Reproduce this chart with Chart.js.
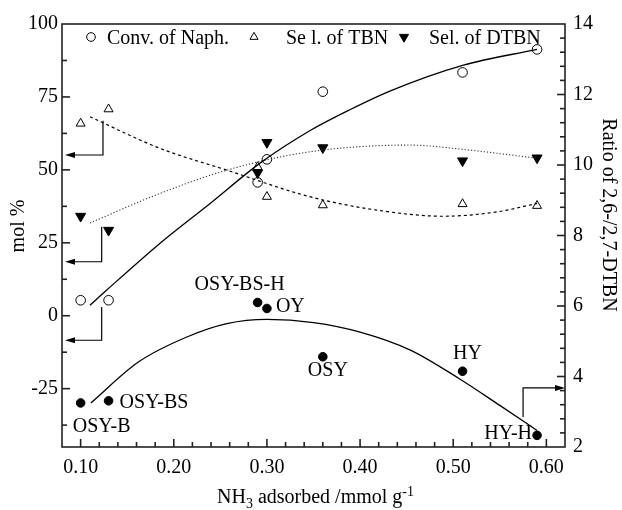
<!DOCTYPE html>
<html>
<head>
<meta charset="utf-8">
<script src="https://cdn.jsdelivr.net/npm/chart.js@4.4.1/dist/chart.umd.min.js"></script>
<style>
  html, body { margin: 0; padding: 0; background: #fff; }
  canvas { display: block; }
</style>
</head>
<body>
<canvas id="chart" width="622" height="510"></canvas>
<script>
// measured samples (x = NH3 adsorbed, mmol/g)
const nh3 = [0.10, 0.13, 0.29, 0.30, 0.36, 0.51, 0.59];
const sampleNames = ['OSY-B', 'OSY-BS', 'OSY-BS-H', 'OY', 'OSY', 'HY', 'HY-H'];
const convNaph = [5.3, 5.3, 45.7, 53.6, 76.8, 83.4, 91.3];
const selTBN = [65.9, 70.8, 51.0, 40.8, 37.9, 38.3, 37.7];
const selDTBN = [34.1, 29.3, 49.0, 59.4, 57.6, 53.1, 54.1];
const ratio2627 = [3.25, 3.31, 6.10, 5.93, 4.56, 4.15, 2.33];

// trend lines
const convFitX = [0.11, 0.128, 0.185, 0.239, 0.293, 0.346, 0.389, 0.432, 0.511, 0.59];
const convFitY = [3.6, 8.8, 24.8, 38.5, 52.4, 63.4, 70.6, 77.0, 85.9, 91.3];
const tbnFitX = [0.11, 0.185, 0.257, 0.346, 0.418, 0.489, 0.547, 0.59];
const tbnFitY = [68.2, 57.4, 49.9, 40.8, 36.2, 34.1, 35.6, 38.5];
const dtbnFitX = [0.11, 0.185, 0.257, 0.346, 0.454, 0.511, 0.59];
const dtbnFitY = [31.8, 41.9, 49.9, 56.2, 58.5, 57.0, 54.0];
const ratioFitX = [0.111, 0.162, 0.214, 0.257, 0.30, 0.35, 0.40, 0.454, 0.507, 0.55, 0.59];
const ratioFitY = [3.25, 4.41, 5.12, 5.50, 5.62, 5.53, 5.26, 4.75, 3.93, 3.18, 2.47];

// axis ticks
const xTicks = [0.10, 0.20, 0.30, 0.40, 0.50, 0.60];
const yTicks = [-25, 0, 25, 50, 75, 100];
const y1Ticks = [2, 4, 6, 8, 10, 12, 14];

// arrows pointing at the axis each series belongs to
const arrows = [
  { x: 0.124, from: 66.8, to: 55.1, axis: 'y' },
  { x: 0.1226, from: 30.5, to: 18.5, axis: 'y' },
  { x: 0.1226, from: 3.0, to: -8.4, axis: 'y' },
  { x: 0.575, from: 2.85, to: 3.675, axis: 'y1' }
];

const FONT = '"Liberation Serif", "Times New Roman", serif';

const pts = (xs, ys) => xs.map((x, i) => ({ x: x, y: ys[i] }));

// label placement next to each black dot: [dx, dy, align]
const labelPos = [
  [21, 24, 'center'],
  [11, 2, 'left'],
  [-18, -18, 'center'],
  [9, -2, 'left'],
  [5, 14, 'center'],
  [5, -17, 'center'],
  [-5, -1.5, 'right']
];

function tickLine(ctx, x1, y1, x2, y2) {
  ctx.beginPath();
  ctx.moveTo(x1, y1);
  ctx.lineTo(x2, y2);
  ctx.stroke();
}

const extras = {
  id: 'extras',
  afterDraw(chart) {
    const ctx = chart.ctx;
    const a = chart.chartArea;
    const sx = chart.scales.x, sy = chart.scales.y, sy1 = chart.scales.y1;
    ctx.save();
    ctx.setLineDash([]);

    // frame
    ctx.strokeStyle = '#222';
    ctx.lineWidth = 1.6;
    ctx.strokeRect(a.left, a.top, a.right - a.left, a.bottom - a.top);

    // inward ticks
    ctx.strokeStyle = '#222';
    ctx.lineWidth = 1.6;
    for (let i = 1; i <= 26; i++) {
      const px = sx.getPixelForValue(0.08 + i * 0.02);
      const len = (i - 1) % 5 === 0 ? 8 : 5;
      tickLine(ctx, px, a.bottom, px, a.bottom - len);
    }
    for (let i = 1; i <= 11; i++) {
      const py = sy.getPixelForValue(-37.5 + (i - 1) * 12.5);
      const len = i % 2 === 0 ? 8 : 5;
      tickLine(ctx, a.left, py, a.left + len, py);
    }
    for (let i = 1; i < 30; i++) {
      const py = sy1.getPixelForValue(2 + i * 0.4);
      const len = i % 5 === 0 ? 8 : 5;
      tickLine(ctx, a.right, py, a.right - len, py);
    }

    // arrows
    ctx.strokeStyle = '#000';
    ctx.fillStyle = '#000';
    ctx.lineWidth = 1.2;
    arrows.forEach(ar => {
      const s = chart.scales[ar.axis];
      const px = sx.getPixelForValue(ar.x);
      const p1 = s.getPixelForValue(ar.from);
      const p2 = s.getPixelForValue(ar.to);
      const tipX = ar.axis === 'y' ? a.left + 3 : a.right;
      const dir = ar.axis === 'y' ? 1 : -1;
      ctx.beginPath();
      ctx.moveTo(px, p1);
      ctx.lineTo(px, p2);
      ctx.lineTo(tipX + dir * 8, p2);
      ctx.stroke();
      ctx.beginPath();
      ctx.moveTo(tipX, p2);
      ctx.lineTo(tipX + dir * 10, p2 - 3);
      ctx.lineTo(tipX + dir * 10, p2 + 3);
      ctx.closePath();
      ctx.fill();
    });

    // sample names
    ctx.font = '20px ' + FONT;
    ctx.textBaseline = 'middle';
    nh3.forEach((x, i) => {
      const px = sx.getPixelForValue(x);
      const py = sy1.getPixelForValue(ratio2627[i]);
      const lp = labelPos[i];
      ctx.textAlign = lp[2];
      ctx.fillText(sampleNames[i], px + lp[0], py + lp[1]);
    });

    // legend inside the plot
    const ds = chart.data.datasets;
    const legendItems = [
      { d: ds[4], text: 'Conv. of Naph.', sx: 29, tx: 45 },
      { d: ds[5], text: 'Se l. of TBN', sx: 192, tx: 224 },
      { d: ds[6], text: 'Sel. of DTBN', sx: 342, tx: 367 }
    ];
    ctx.textAlign = 'left';
    ctx.textBaseline = 'alphabetic';
    legendItems.forEach(it => {
      ctx.fillStyle = it.d.backgroundColor;
      ctx.strokeStyle = it.d.borderColor;
      ctx.lineWidth = 1;
      Chart.helpers.drawPoint(ctx, {
        pointStyle: it.d.pointStyle,
        rotation: it.d.pointRotation || 0,
        radius: it.d.pointRadius * 0.9,
        borderWidth: 1
      }, a.left + it.sx, a.top + 13);
      ctx.fillStyle = '#000';
      ctx.fillText(it.text, a.left + it.tx, a.top + 19.5);
    });

    // axis titles
    ctx.fillStyle = '#000';
    ctx.font = '20px ' + FONT;
    ctx.save();
    ctx.translate(19, 226);
    ctx.rotate(-Math.PI / 2);
    ctx.textAlign = 'center';
    ctx.textBaseline = 'middle';
    ctx.fillText('mol %', 0, 0);
    ctx.restore();

    ctx.save();
    ctx.translate(608, 215);
    ctx.rotate(Math.PI / 2);
    ctx.textAlign = 'center';
    ctx.textBaseline = 'middle';
    ctx.fillText('Ratio of 2,6-/2,7-DTBN', 0, 0);
    ctx.restore();

    // x title with sub/superscript
    const parts = [
      { t: 'NH', size: 20, dy: 0 },
      { t: '3', size: 14, dy: 5 },
      { t: ' adsorbed /mmol g', size: 20, dy: 0 },
      { t: '-1', size: 14, dy: -7 }
    ];
    let total = 0;
    parts.forEach(p => { ctx.font = p.size + 'px ' + FONT; p.w = ctx.measureText(p.t).width; total += p.w; });
    let cx = (a.left + a.right) / 2 + 2 - total / 2;
    const base = 503;
    ctx.textAlign = 'left';
    ctx.textBaseline = 'alphabetic';
    parts.forEach(p => {
      ctx.font = p.size + 'px ' + FONT;
      ctx.fillText(p.t, cx, base + p.dy);
      cx += p.w;
    });

    ctx.restore();
  }
};

const tickFont = { family: FONT, size: 20 };

new Chart(document.getElementById('chart'), {
  type: 'scatter',
  data: {
    datasets: [
      { type: 'line', data: pts(convFitX, convFitY), yAxisID: 'y', borderColor: '#000', borderWidth: 1.3, pointRadius: 0, cubicInterpolationMode: 'monotone', fill: false },
      { type: 'line', data: pts(tbnFitX, tbnFitY), yAxisID: 'y', borderColor: '#000', borderWidth: 1.2, borderDash: [3, 3], pointRadius: 0, cubicInterpolationMode: 'monotone', fill: false },
      { type: 'line', data: pts(dtbnFitX, dtbnFitY), yAxisID: 'y', borderColor: '#333', borderWidth: 1.1, borderDash: [1.2, 2], pointRadius: 0, cubicInterpolationMode: 'monotone', fill: false },
      { type: 'line', data: pts(ratioFitX, ratioFitY), yAxisID: 'y1', borderColor: '#000', borderWidth: 1.3, pointRadius: 0, cubicInterpolationMode: 'monotone', fill: false },
      { label: 'Conv. of Naph.', data: pts(nh3, convNaph), yAxisID: 'y', pointStyle: 'circle', pointRadius: 4.8, borderWidth: 1, borderColor: '#000', backgroundColor: 'rgba(0,0,0,0)' },
      { label: 'Se l. of TBN', data: pts(nh3, selTBN), yAxisID: 'y', pointStyle: 'triangle', pointRadius: 5.2, borderWidth: 1, borderColor: '#000', backgroundColor: 'rgba(0,0,0,0)' },
      { label: 'Sel. of DTBN', data: pts(nh3, selDTBN), yAxisID: 'y', pointStyle: 'triangle', pointRotation: 180, pointRadius: 5.8, borderWidth: 1, borderColor: '#000', backgroundColor: '#000' },
      { label: 'Ratio', data: pts(nh3, ratio2627), yAxisID: 'y1', pointStyle: 'circle', pointRadius: 4.3, borderWidth: 1, borderColor: '#000', backgroundColor: '#000' }
    ]
  },
  options: {
    responsive: false,
    animation: false,
    devicePixelRatio: 1,
    layout: { padding: { top: 24, left: 0, right: 0, bottom: 0 } },
    plugins: { legend: { display: false }, tooltip: { enabled: false } },
    scales: {
      x: {
        type: 'linear', position: 'bottom', min: 0.08, max: 0.62,
        afterBuildTicks: s => { s.ticks = xTicks.map(v => ({ value: v })); },
        afterFit: s => { s.height = 63; },
        grid: { display: false, drawTicks: false },
        border: { display: false },
        ticks: { font: tickFont, color: '#000', padding: 9, maxRotation: 0, autoSkip: false, callback: v => v.toFixed(2) }
      },
      y: {
        type: 'linear', position: 'left', min: -45, max: 100,
        afterBuildTicks: s => { s.ticks = yTicks.map(v => ({ value: v })); },
        afterFit: s => { s.width = 62; },
        grid: { display: false, drawTicks: false },
        border: { display: false },
        ticks: { font: tickFont, color: '#000', padding: 4, autoSkip: false }
      },
      y1: {
        type: 'linear', position: 'right', min: 2, max: 14,
        afterBuildTicks: s => { s.ticks = y1Ticks.map(v => ({ value: v })); },
        afterFit: s => { s.width = 57; },
        grid: { display: false, drawTicks: false },
        border: { display: false },
        ticks: { font: tickFont, color: '#000', padding: 8, autoSkip: false }
      }
    }
  },
  plugins: [extras]
});
</script>
</body>
</html>
